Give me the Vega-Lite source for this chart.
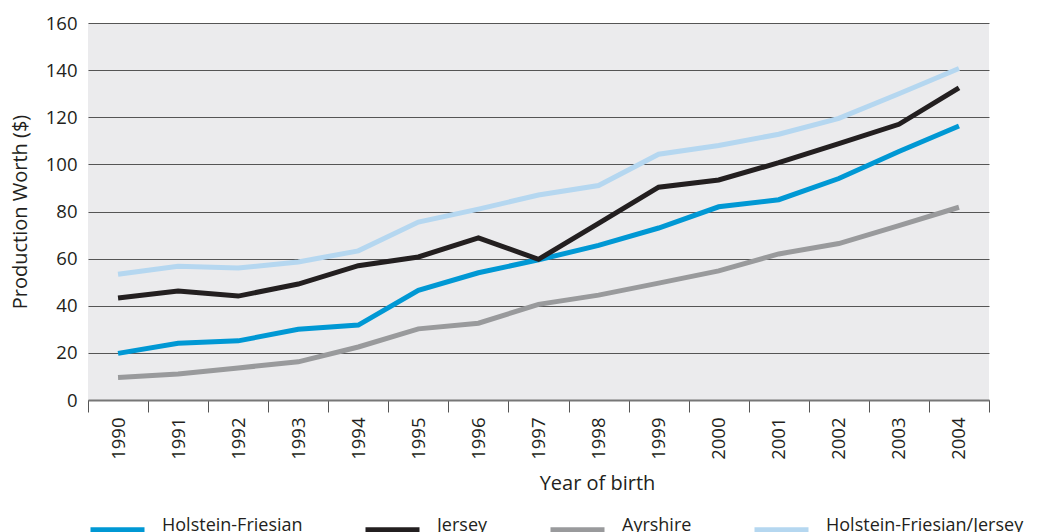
{
  "$schema": "https://vega.github.io/schema/vega-lite/v6.json",
  "width": 901,
  "height": 377,
  "autosize": {"type": "none"},
  "padding": {"left": 88, "top": 23, "right": 49, "bottom": 132},
  "background": "#ffffff",
  "config": {
    "view": {"fill": "#ebebed", "stroke": null},
    "font": "Open Sans",
    "axis": {"labelFont": "Open Sans", "titleFont": "Open Sans", "labelColor": "#231f20", "titleColor": "#231f20", "titleFontWeight": "normal"}
  },
  "data": {
    "values": [
      {"year": 1990, "breed": "Holstein-Friesian", "value": 19.8},
      {"year": 1991, "breed": "Holstein-Friesian", "value": 24.1},
      {"year": 1992, "breed": "Holstein-Friesian", "value": 25.1},
      {"year": 1993, "breed": "Holstein-Friesian", "value": 30},
      {"year": 1994, "breed": "Holstein-Friesian", "value": 31.8},
      {"year": 1995, "breed": "Holstein-Friesian", "value": 46.5},
      {"year": 1996, "breed": "Holstein-Friesian", "value": 54},
      {"year": 1997, "breed": "Holstein-Friesian", "value": 59.5},
      {"year": 1998, "breed": "Holstein-Friesian", "value": 65.6},
      {"year": 1999, "breed": "Holstein-Friesian", "value": 73},
      {"year": 2000, "breed": "Holstein-Friesian", "value": 82},
      {"year": 2001, "breed": "Holstein-Friesian", "value": 85},
      {"year": 2002, "breed": "Holstein-Friesian", "value": 94},
      {"year": 2003, "breed": "Holstein-Friesian", "value": 105.5},
      {"year": 2004, "breed": "Holstein-Friesian", "value": 116.3},
      {"year": 1990, "breed": "Jersey", "value": 43.3},
      {"year": 1991, "breed": "Jersey", "value": 46.3},
      {"year": 1992, "breed": "Jersey", "value": 44.1},
      {"year": 1993, "breed": "Jersey", "value": 49.2},
      {"year": 1994, "breed": "Jersey", "value": 57},
      {"year": 1995, "breed": "Jersey", "value": 60.7},
      {"year": 1996, "breed": "Jersey", "value": 68.8},
      {"year": 1997, "breed": "Jersey", "value": 59.7},
      {"year": 1998, "breed": "Jersey", "value": 75},
      {"year": 1999, "breed": "Jersey", "value": 90.3},
      {"year": 2000, "breed": "Jersey", "value": 93.4},
      {"year": 2001, "breed": "Jersey", "value": 100.7},
      {"year": 2002, "breed": "Jersey", "value": 108.8},
      {"year": 2003, "breed": "Jersey", "value": 117},
      {"year": 2004, "breed": "Jersey", "value": 132.5},
      {"year": 1990, "breed": "Ayrshire", "value": 9.6},
      {"year": 1991, "breed": "Ayrshire", "value": 11},
      {"year": 1992, "breed": "Ayrshire", "value": 13.6},
      {"year": 1993, "breed": "Ayrshire", "value": 16.2},
      {"year": 1994, "breed": "Ayrshire", "value": 22.5},
      {"year": 1995, "breed": "Ayrshire", "value": 30.2},
      {"year": 1996, "breed": "Ayrshire", "value": 32.6},
      {"year": 1997, "breed": "Ayrshire", "value": 40.6},
      {"year": 1998, "breed": "Ayrshire", "value": 44.5},
      {"year": 1999, "breed": "Ayrshire", "value": 49.6},
      {"year": 2000, "breed": "Ayrshire", "value": 54.8},
      {"year": 2001, "breed": "Ayrshire", "value": 62},
      {"year": 2002, "breed": "Ayrshire", "value": 66.4},
      {"year": 2003, "breed": "Ayrshire", "value": 74},
      {"year": 2004, "breed": "Ayrshire", "value": 81.8},
      {"year": 1990, "breed": "Holstein-Friesian/Jersey", "value": 53.4},
      {"year": 1991, "breed": "Holstein-Friesian/Jersey", "value": 56.8},
      {"year": 1992, "breed": "Holstein-Friesian/Jersey", "value": 56},
      {"year": 1993, "breed": "Holstein-Friesian/Jersey", "value": 58.6},
      {"year": 1994, "breed": "Holstein-Friesian/Jersey", "value": 63.3},
      {"year": 1995, "breed": "Holstein-Friesian/Jersey", "value": 75.5},
      {"year": 1996, "breed": "Holstein-Friesian/Jersey", "value": 81},
      {"year": 1997, "breed": "Holstein-Friesian/Jersey", "value": 87},
      {"year": 1998, "breed": "Holstein-Friesian/Jersey", "value": 91},
      {"year": 1999, "breed": "Holstein-Friesian/Jersey", "value": 104.3},
      {"year": 2000, "breed": "Holstein-Friesian/Jersey", "value": 108},
      {"year": 2001, "breed": "Holstein-Friesian/Jersey", "value": 112.8},
      {"year": 2002, "breed": "Holstein-Friesian/Jersey", "value": 119.5},
      {"year": 2003, "breed": "Holstein-Friesian/Jersey", "value": 130},
      {"year": 2004, "breed": "Holstein-Friesian/Jersey", "value": 140.7}
    ]
  },
  "mark": {"type": "line", "strokeWidth": 5, "strokeCap": "butt", "strokeJoin": "miter"},
  "encoding": {
    "x": {
      "field": "year",
      "type": "quantitative",
      "scale": {"domain": [1989.5, 2004.5], "nice": false, "zero": false},
      "axis": {
        "values": [1989.5, 1990.5, 1991.5, 1992.5, 1993.5, 1994.5, 1995.5, 1996.5, 1997.5, 1998.5, 1999.5, 2000.5, 2001.5, 2002.5, 2003.5, 2004.5],
        "labelExpr": "datum.value > 2004 ? '' : format(datum.value + 0.5, 'd')",
        "labelOffset": 30,
        "labelAngle": 270,
        "labelFontSize": 18.5,
        "labelPadding": 5,
        "labelFlush": false,
        "labelOverlap": false,
        "labelBound": false,
        "tickSize": 12,
        "tickColor": "#555555",
        "tickWidth": 1,
        "domainColor": "#777777",
        "domainWidth": 2,
        "grid": false,
        "title": "Year of birth",
        "titleFontSize": 20,
        "titleX": 509,
        "titleAlign": "center",
        "titlePadding": 14
      }
    },
    "y": {
      "field": "value",
      "type": "quantitative",
      "scale": {"domain": [0, 160], "nice": false},
      "axis": {
        "values": [0, 20, 40, 60, 80, 100, 120, 140, 160],
        "labelFontSize": 18.5,
        "labelPadding": 11,
        "ticks": false,
        "domain": false,
        "grid": true,
        "gridColor": "#555555",
        "gridWidth": 1,
        "title": "Production Worth ($)",
        "titleFontSize": 20,
        "titlePadding": 15
      }
    },
    "color": {
      "field": "breed",
      "type": "nominal",
      "sort": ["Holstein-Friesian", "Jersey", "Ayrshire", "Holstein-Friesian/Jersey"],
      "scale": {
        "domain": ["Holstein-Friesian", "Jersey", "Ayrshire", "Holstein-Friesian/Jersey"],
        "range": ["#0098d4", "#231f20", "#999a9c", "#b5d7f0"]
      },
      "legend": {
        "title": null,
        "orient": "none",
        "legendX": -1,
        "legendY": 477,
        "direction": "horizontal",
        "columns": 4,
        "symbolType": "stroke",
        "symbolSize": 2916,
        "symbolStrokeWidth": 7,
        "labelFontSize": 18,
        "labelFont": "Open Sans",
        "labelColor": "#231f20",
        "labelBaseline": "alphabetic",
        "labelOffset": 14,
        "columnPadding": 48,
        "labelLimit": 400
      }
    }
  }
}
